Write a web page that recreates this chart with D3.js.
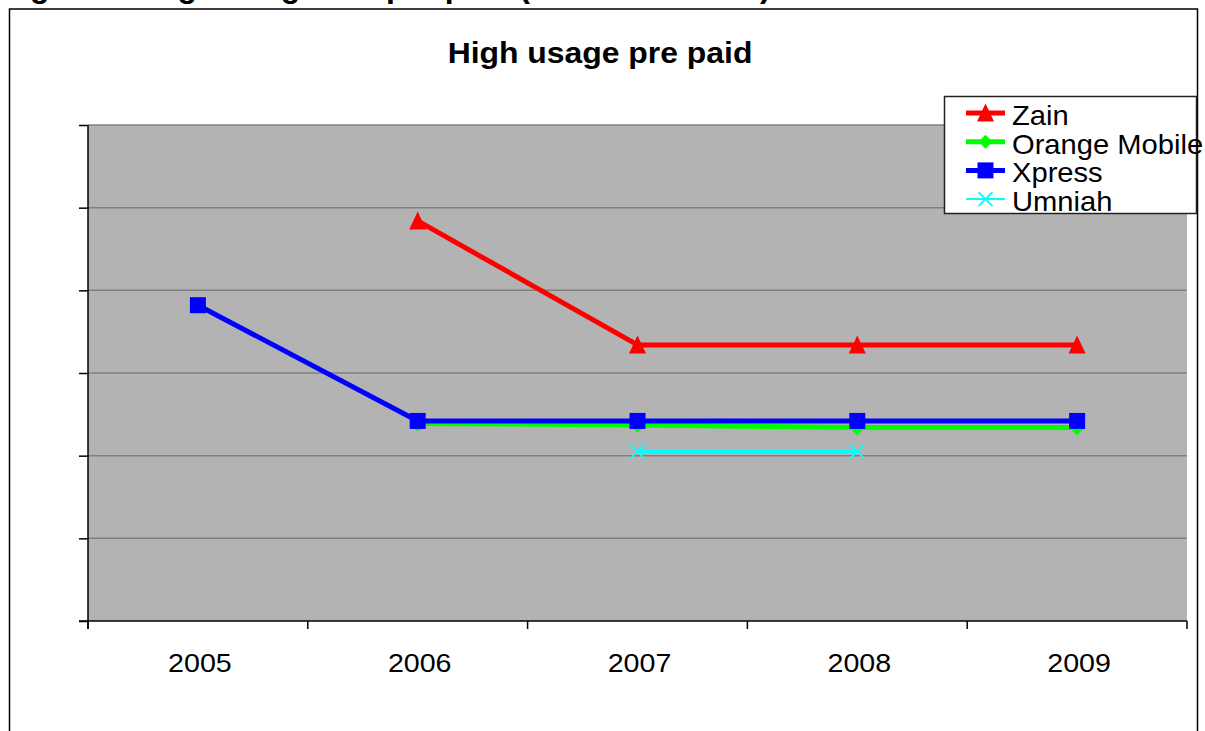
<!DOCTYPE html>
<html>
<head>
<meta charset="utf-8">
<script src="https://cdn.jsdelivr.net/npm/d3@7"></script>
<style>
  html, body { margin: 0; padding: 0; background: #fff; overflow: hidden; }
  svg { display: block; font-family: "Liberation Sans", Arial, sans-serif; }
</style>
</head>
<body>
<svg id="chart" width="1205" height="731"></svg>
<script>
// ---- data ----
const years = ["2005", "2006", "2007", "2008", "2009"];
const zain   = [null, 48.4, 33.4, 33.4, 33.4];
const orange = [null, 23.9, 23.7, 23.4, 23.4];
const xpress = [38.2, 24.2, 24.2, 24.2, 24.2];
const umniah = [null, null, 20.5, 20.5, null];
const yTicks = [0, 10, 20, 30, 40, 50, 60];
const seriesNames = ["Zain", "Orange Mobile", "Xpress", "Umniah"];
const seriesColors = ["#ff0000", "#00ff00", "#0000ff", "#00ffff"];
const seriesMarkers = ["triangle", "diamond", "square", "x"];
const chartTitle = "High usage pre paid";

const series = [zain, orange, xpress, umniah].map((vals, i) => ({
  name: seriesNames[i], color: seriesColors[i], marker: seriesMarkers[i],
  values: vals.map((v, j) => ({ year: years[j], value: v }))
}));

const svg = d3.select("#chart");
const SX = 1.1; // horizontal stretch of chart text

// clipped document caption at the very top
svg.append("text").attr("x", 318).attr("y", -3).attr("text-anchor", "end")
  .attr("font-size", 32).attr("font-weight", "bold").text("Figure 8: High usage");
svg.append("text").attr("x", 386).attr("y", -3)
  .attr("font-size", 32).attr("font-weight", "bold").text("pre paid (");
svg.append("text").attr("x", 760).attr("y", -3)
  .attr("font-size", 32).attr("font-weight", "bold").text(")");

// outer chart frame
svg.append("rect").attr("x", 9.5).attr("y", 9).attr("width", 1188).attr("height", 740)
  .attr("fill", "#fff").attr("stroke", "#000").attr("stroke-width", 1.5);

const plot = { left: 88, top: 125, right: 1187, bottom: 621 };

const x = d3.scaleBand().domain(years).range([plot.left, plot.right]).padding(0);
const y = d3.scaleLinear().domain([0, 60]).range([plot.bottom, plot.top]);

// plot background
svg.append("rect").attr("x", plot.left).attr("y", plot.top)
  .attr("width", plot.right - plot.left).attr("height", plot.bottom - plot.top)
  .attr("fill", "#b3b3b3");

// gridlines
svg.append("g").selectAll("line").data(yTicks.filter(t => t > 0)).join("line")
  .attr("x1", plot.left).attr("x2", plot.right)
  .attr("y1", d => y(d)).attr("y2", d => y(d))
  .attr("stroke", "#808080").attr("stroke-width", 1.5);

// y axis (no labels)
const yAxis = svg.append("g").attr("transform", `translate(${plot.left},0)`)
  .call(d3.axisLeft(y).tickValues(yTicks).tickSize(9).tickFormat(""));
yAxis.select(".domain").attr("stroke", "#000").attr("stroke-width", 1.5)
  .attr("d", `M0,${plot.top}V${plot.bottom + 8}`);
yAxis.selectAll(".tick line").attr("stroke", "#000").attr("stroke-width", 1.5);

// x axis
const xAxis = svg.append("g").attr("transform", `translate(0,${plot.bottom})`)
  .call(d3.axisBottom(x).tickSize(0).tickFormat(""));
xAxis.select(".domain").attr("stroke", "#000").attr("stroke-width", 1.5)
  .attr("d", `M${plot.left - 9},0H${plot.right}`);
const boundaries = years.map(yr => x(yr)).concat([x(years[years.length - 1]) + x.bandwidth()]);
svg.append("g").selectAll("line").data(boundaries).join("line")
  .attr("x1", d => d).attr("x2", d => d)
  .attr("y1", plot.bottom).attr("y2", plot.bottom + 8)
  .attr("stroke", "#000").attr("stroke-width", 1.5);
svg.append("g").selectAll("text").data(years).join("text")
  .attr("transform", d => `translate(${x(d) + x.bandwidth() / 2 + 2},${plot.bottom + 51}) scale(${SX},1)`)
  .attr("text-anchor", "middle").attr("font-size", 26).attr("fill", "#000")
  .text(d => d);

// title
svg.append("text")
  .attr("transform", `translate(600,63) scale(1.1,1)`)
  .attr("text-anchor", "middle").attr("font-size", 29).attr("font-weight", "bold")
  .text(chartTitle);

// marker drawing
function drawMarker(g, type, color, cx, cy, legend) {
  if (type === "triangle") {
    const s = 8.5;
    g.append("path").attr("d", `M${cx},${cy - s - 1}L${cx + s},${cy + s}L${cx - s},${cy + s}Z`)
      .attr("fill", color);
  } else if (type === "square") {
    const s = 8;
    g.append("rect").attr("x", cx - s).attr("y", cy - s).attr("width", 2 * s).attr("height", 2 * s)
      .attr("fill", color);
  } else if (type === "diamond") {
    const s = legend ? 7 : 8;
    g.append("path").attr("d", `M${cx},${cy - s}L${cx + s},${cy}L${cx},${cy + s}L${cx - s},${cy}Z`)
      .attr("fill", color);
  } else if (type === "x") {
    const s = 7;
    g.append("path").attr("d", `M${cx - s},${cy - s}L${cx + s},${cy + s}M${cx - s},${cy + s}L${cx + s},${cy - s}`)
      .attr("stroke", color).attr("stroke-width", 2).attr("fill", "none");
  }
}

// lines + markers
const line = d3.line()
  .defined(d => d.value !== null)
  .x(d => x(d.year) + x.bandwidth() / 2)
  .y(d => y(d.value));

series.forEach(s => {
  const g = svg.append("g");
  g.append("path").datum(s.values).attr("d", line)
    .attr("fill", "none").attr("stroke", s.color)
    .attr("stroke-width", s.marker === "x" ? 4.5 : 5).attr("stroke-linejoin", "round");
  s.values.filter(d => d.value !== null).forEach(d => {
    drawMarker(g, s.marker, s.color, x(d.year) + x.bandwidth() / 2, y(d.value), false);
  });
});

// legend
const lg = svg.append("g");
lg.append("rect").attr("x", 944.5).attr("y", 96.5).attr("width", 252).attr("height", 117)
  .attr("fill", "#fff").attr("stroke", "#222").attr("stroke-width", 1.5);
series.forEach((s, i) => {
  const base = 125 + i * 28.7;
  const ly = base - 12;
  lg.append("line").attr("x1", 966).attr("x2", 1005).attr("y1", ly).attr("y2", ly)
    .attr("stroke", s.color).attr("stroke-width", s.marker === "x" ? 2 : 5);
  drawMarker(lg, s.marker, s.color, 985.5, ly, true);
  lg.append("text").attr("transform", `translate(1012,${base}) scale(1.06,1)`)
    .attr("font-size", 27.5).attr("fill", "#000").text(s.name);
});
</script>
</body>
</html>
